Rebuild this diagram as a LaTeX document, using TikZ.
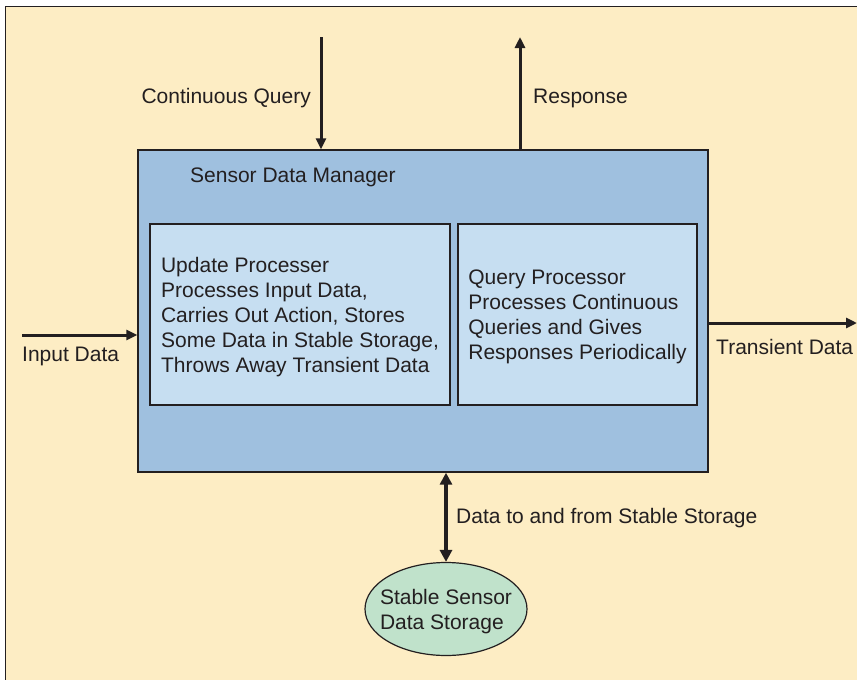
\documentclass[tikz,border=0pt]{standalone}
\usepackage{fontspec}
\setmainfont{Liberation Sans}
\usetikzlibrary{arrows.meta,shapes.geometric}
\definecolor{paper}{HTML}{FDEDC4}
\definecolor{mgrblue}{HTML}{9FC0DF}
\definecolor{procblue}{HTML}{C6DEF1}
\definecolor{storegreen}{HTML}{C0E2CB}
\definecolor{ink}{HTML}{231F20}
\tikzset{
  txt/.style={font=\fontsize{21}{25}\selectfont, text=ink, inner sep=0pt},
  box/.style={draw=ink, line width=1.4pt, inner sep=0pt},
  arr/.style={draw=ink, line width=3pt, -{Triangle[length=11pt,width=10pt]}},
  dblarr/.style={draw=ink, line width=3.5pt, {Triangle[length=12pt,width=12pt]}-{Triangle[length=12pt,width=12pt]}},
}
\begin{document}
\begin{tikzpicture}[x=1pt,y=-1pt]
\useasboundingbox (0,0) rectangle (857,680);
% page background and frame
\fill[paper] (5.5,6.5) rectangle (857,680);
\draw[ink, line width=1.5pt] (5.5,680) -- (5.5,6.5) -- (857,6.5);

% Sensor Data Manager
\node[box, fill=mgrblue, minimum width=570pt, minimum height=322pt] (sdm) at (423,311) {};
\node[txt, anchor=west] (sdmlbl) at (190,177.5) {Sensor Data Manager};

\node[box, fill=procblue, minimum width=300pt, minimum height=181pt] (upd) at (300,314.5) {};
\node[txt, align=left] (updlbl) at (300,317)
  {Update Processer\\Processes Input Data,\\Carries Out Action, Stores\\Some Data in Stable Storage,\\Throws Away Transient Data};
\node[box, fill=procblue, minimum width=239pt, minimum height=181pt] (qry) at (577.5,314.5) {};
\node[txt, align=left] (qrylbl) at (577.5,317)
  {Query Processor\\Processes Continuous\\Queries and Gives\\Responses Periodically};

% storage
\node[draw=ink, line width=1.2pt, fill=storegreen, ellipse, minimum width=162pt,
      minimum height=93pt, inner sep=0pt] (store) at (446,609) {};
\node[txt, align=left] (storelbl) at (446,611.5) {Stable Sensor\\Data Storage};

% connectors
\coordinate (cqtop) at (321,37);
\coordinate (rsptop) at (520,37);
\coordinate (inl) at (22,335);
\coordinate (outr) at (857,323);
\draw[arr] (cqtop) -- (cqtop |- sdm.north);
\draw[arr] (rsptop |- sdm.north) -- (rsptop);
\draw[arr] (inl) -- (inl -| sdm.west);
\draw[arr] (outr -| sdm.east) -- (outr);
\draw[dblarr] (sdm.south -| store.north) -- (store.north);

% labels
\node[txt, anchor=east] (cqlbl) at (311,98.5) {Continuous Query};
\node[txt, anchor=west] (rsplbl) at (533,98.5) {Response};
\node[txt, anchor=west] (inlbl) at (22,356.5) {Input Data};
\node[txt, anchor=west] (outlbl) at (716,346.5) {Transient Data};
\node[txt, anchor=west] (dsslbl) at (456,518.5) {Data to and from Stable Storage};
\end{tikzpicture}
\end{document}
